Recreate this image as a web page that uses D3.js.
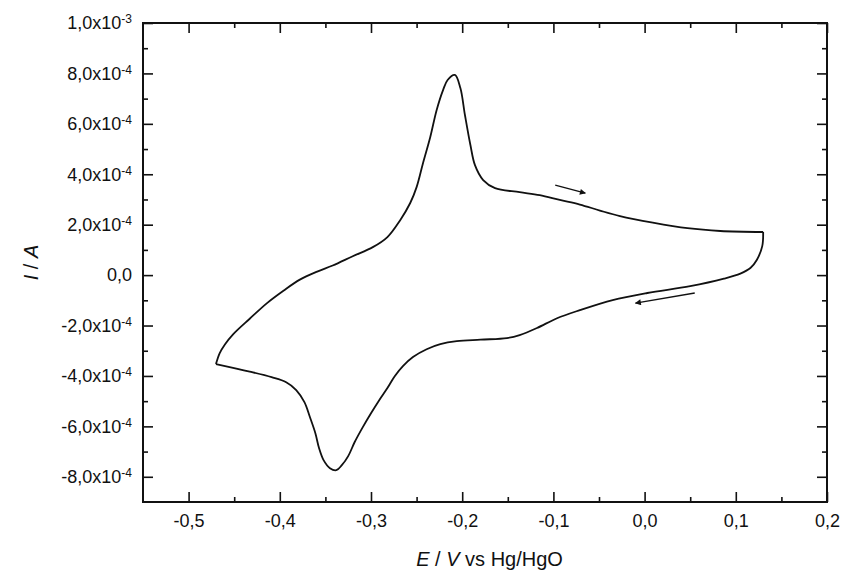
<!DOCTYPE html>
<html>
<head>
<meta charset="utf-8">
<script src="https://cdn.jsdelivr.net/npm/d3@7"></script>
<style>
  html, body { margin: 0; padding: 0; background: #fff; }
  svg { display: block; font-family: "Liberation Sans", Arial, sans-serif; }
</style>
</head>
<body>
<div id="chart"></div>
<script>
// Cyclic voltammogram — E in V vs Hg/HgO, I in units of 1e-4 A
const forwardE = [-0.470, -0.466, -0.460, -0.451, -0.433, -0.414, -0.396, -0.378, -0.359, -0.342,
                  -0.320, -0.298, -0.282, -0.268, -0.257, -0.250, -0.243, -0.235, -0.228, -0.221,
                  -0.216, -0.208, -0.202, -0.197, -0.191, -0.186, -0.177, -0.164, -0.137, -0.115,
                  -0.093, -0.071, -0.049, -0.027, 0.009, 0.047, 0.083, 0.130];
const forwardI = [-3.53, -3.10, -2.74, -2.34, -1.73, -1.11, -0.62, -0.18, 0.14, 0.38,
                  0.75, 1.11, 1.51, 2.18, 2.86, 3.49, 4.44, 5.48, 6.55, 7.34,
                  7.74, 7.94, 7.42, 6.35, 5.16, 4.36, 3.77, 3.45, 3.29, 3.17,
                  2.98, 2.80, 2.56, 2.34, 2.08, 1.86, 1.75, 1.71];

const reverseE = [0.130, 0.129, 0.123, 0.116, 0.105, 0.087, 0.050, 0.003, -0.035, -0.071,
                  -0.096, -0.118, -0.137, -0.151, -0.180, -0.206, -0.224, -0.239, -0.254, -0.265,
                  -0.274, -0.282, -0.291, -0.300, -0.309, -0.318, -0.325, -0.332, -0.338, -0.345,
                  -0.352, -0.357, -0.361, -0.367, -0.373, -0.382, -0.393, -0.409, -0.433, -0.470];
const reverseI = [1.71, 1.15, 0.60, 0.28, 0.06, -0.14, -0.44, -0.71, -0.99, -1.39,
                  -1.71, -2.10, -2.38, -2.50, -2.56, -2.62, -2.74, -2.94, -3.25, -3.61,
                  -4.01, -4.48, -4.96, -5.48, -6.03, -6.63, -7.18, -7.54, -7.74, -7.66,
                  -7.34, -6.86, -6.27, -5.63, -5.04, -4.56, -4.25, -4.05, -3.83, -3.53];

// scan direction arrows: [E0, I0, E1, I1]
const arrows = [
  [-0.098, 3.57, -0.065, 3.25],
  [0.055, -0.71, -0.010, -1.11]
];

const xMajor = [-0.5, -0.4, -0.3, -0.2, -0.1, 0.0, 0.1, 0.2];
const xMinor = [-0.45, -0.35, -0.25, -0.15, -0.05, 0.05, 0.15];
const yMajor = [-8, -6, -4, -2, 0, 2, 4, 6, 8, 10];
const yMinor = [-7, -5, -3, -1, 1, 3, 5, 7, 9];

const W = 852, H = 571;
const margin = { top: 23, right: 25, bottom: 69, left: 143 };
const width  = W - margin.left - margin.right;
const height = H - margin.top - margin.bottom;

const svg = d3.select("#chart").append("svg")
    .attr("width", W)
    .attr("height", H);

const g = svg.append("g")
    .attr("transform", `translate(${margin.left},${margin.top})`);

const x = d3.scaleLinear().domain([-0.55, 0.2]).range([0, width]);
const y = d3.scaleLinear().domain([-9, 10]).range([height, 0]);

// ── Axes (ticks pointing inward on all four sides) ─────────────────────
function styleAxis(sel) {
    sel.select(".domain").remove();
    sel.selectAll(".tick line").attr("stroke", "#111").attr("stroke-width", 1.6);
}

const fmtX = d => d3.format(".1f")(d).replace(".", ",").replace("−", "-");

g.append("g").attr("transform", `translate(0,${height})`)
    .call(d3.axisBottom(x).tickValues(xMajor).tickSize(-10).tickPadding(12).tickFormat(fmtX))
    .call(styleAxis)
    .selectAll("text")
    .style("font-size", "18px").style("fill", "#111");

g.append("g").attr("transform", `translate(0,${height})`)
    .call(d3.axisBottom(x).tickValues(xMinor).tickSize(-5).tickFormat(""))
    .call(styleAxis);

g.append("g")
    .call(d3.axisTop(x).tickValues(xMajor).tickSize(-10).tickFormat(""))
    .call(styleAxis);
g.append("g")
    .call(d3.axisTop(x).tickValues(xMinor).tickSize(-5).tickFormat(""))
    .call(styleAxis);

const yAxis = g.append("g")
    .call(d3.axisLeft(y).tickValues(yMajor).tickSize(-10).tickPadding(11))
    .call(styleAxis);

yAxis.selectAll(".tick text")
    .style("font-size", "18px").style("fill", "#111")
    .each(function(d) {
        const t = d3.select(this).text("");
        if (d === 0) { t.text("0,0"); return; }
        const exp = Math.floor(Math.log10(Math.abs(d) * 1e-4) + 1e-9);
        const mant = d * 1e-4 / Math.pow(10, exp);
        t.append("tspan").text(d3.format(".1f")(mant).replace(".", ",").replace("−", "-") + "x10");
        t.append("tspan").attr("dy", "-0.5em").style("font-size", "12px").text(exp);
    });

g.append("g")
    .call(d3.axisLeft(y).tickValues(yMinor).tickSize(-5).tickFormat(""))
    .call(styleAxis);

g.append("g").attr("transform", `translate(${width},0)`)
    .call(d3.axisRight(y).tickValues(yMajor).tickSize(-10).tickFormat(""))
    .call(styleAxis);
g.append("g").attr("transform", `translate(${width},0)`)
    .call(d3.axisRight(y).tickValues(yMinor).tickSize(-5).tickFormat(""))
    .call(styleAxis);

// frame
g.append("rect")
    .attr("width", width).attr("height", height)
    .attr("fill", "none").attr("stroke", "#111").attr("stroke-width", 2);

// ── Curve ──────────────────────────────────────────────────────────────
const line = d3.line()
    .x(d => x(d[0]))
    .y(d => y(d[1]))
    .curve(d3.curveCatmullRom.alpha(0.5));

const forward = forwardE.map((e, i) => [e, forwardI[i]]);
const reverse = reverseE.map((e, i) => [e, reverseI[i]]);

[forward, reverse].forEach(seg => {
    g.append("path")
        .datum(seg)
        .attr("d", line)
        .attr("fill", "none")
        .attr("stroke", "#111")
        .attr("stroke-width", 1.8)
        .attr("stroke-linejoin", "round");
});

// arrows
svg.append("defs").append("marker")
    .attr("id", "arrowhead")
    .attr("viewBox", "0 0 10 10")
    .attr("refX", 9).attr("refY", 5)
    .attr("markerWidth", 11).attr("markerHeight", 6)
    .attr("markerUnits", "userSpaceOnUse")
    .attr("orient", "auto")
    .append("path")
    .attr("d", "M0,0 L10,5 L0,10 Z")
    .attr("fill", "#111");

g.selectAll(".scan-arrow")
    .data(arrows)
    .join("line")
    .attr("class", "scan-arrow")
    .attr("x1", d => x(d[0])).attr("y1", d => y(d[1]))
    .attr("x2", d => x(d[2])).attr("y2", d => y(d[3]))
    .attr("stroke", "#111")
    .attr("stroke-width", 1.3)
    .attr("marker-end", "url(#arrowhead)");

// ── Axis titles ────────────────────────────────────────────────────────
const xTitle = svg.append("text")
    .attr("x", margin.left + x(-0.17))
    .attr("y", 566)
    .attr("text-anchor", "middle")
    .style("font-size", "20px")
    .style("fill", "#111");
xTitle.append("tspan").style("font-style", "italic").text("E");
xTitle.append("tspan").text(" / ");
xTitle.append("tspan").style("font-style", "italic").text("V");
xTitle.append("tspan").text(" vs Hg/HgO");

const yTitle = svg.append("text")
    .attr("transform", `translate(38, ${margin.top + y(0.5)}) rotate(-90)`)
    .attr("text-anchor", "middle")
    .style("font-size", "20px")
    .style("fill", "#111");
yTitle.append("tspan").style("font-style", "italic").text("I");
yTitle.append("tspan").text(" / ");
yTitle.append("tspan").style("font-style", "italic").text("A");
</script>
</body>
</html>
